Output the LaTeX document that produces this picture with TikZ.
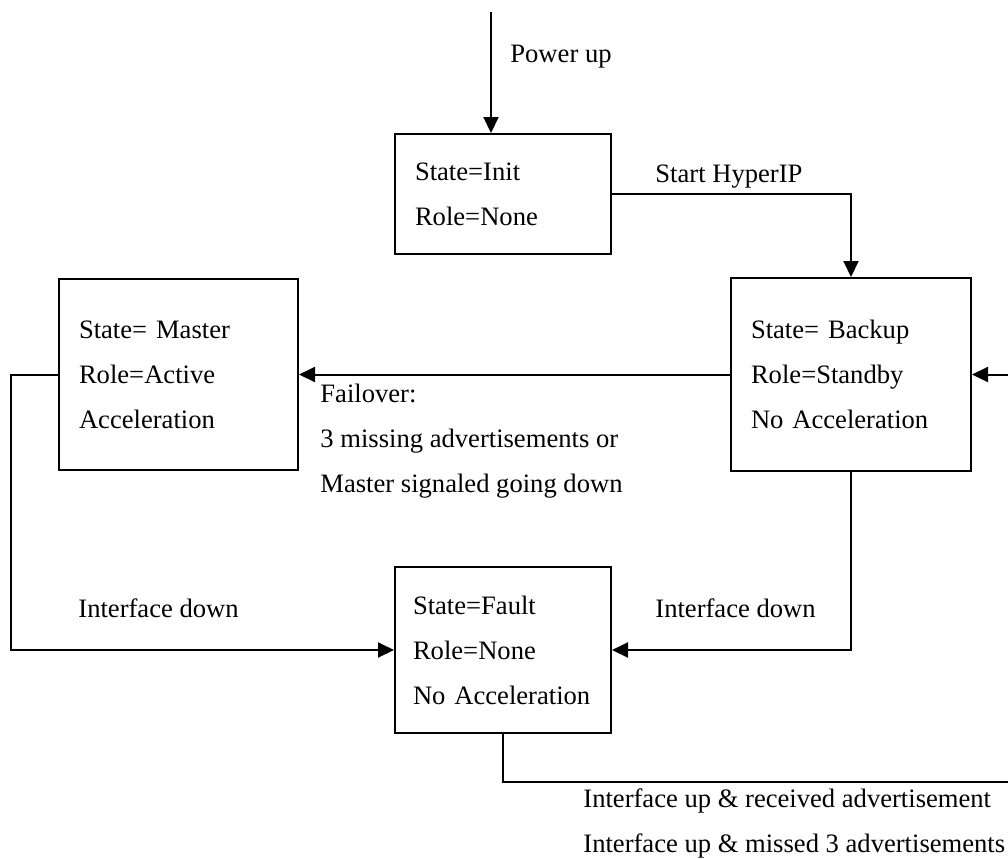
\documentclass[tikz,border=0pt]{standalone}
\usepackage{fontspec}
\setmainfont{Liberation Serif}
\usetikzlibrary{arrows.meta,positioning}

\begin{document}
\begin{tikzpicture}[
  x=0.5pt, y=-0.5pt,
  font=\fontsize{13.3}{22.5}\selectfont,
  st/.style={draw, line width=1pt, align=left, inner xsep=10pt, inner ysep=0pt},
  arr/.style={-{Triangle[length=8pt,width=7.5pt]}, line width=1pt},
  lbl/.style={anchor=west, align=left, inner sep=0pt},
]
\useasboundingbox (0,0) rectangle (1008,858);
\clip (0,0) rectangle (1008,858);

\node[st, text width=88pt, minimum height=60pt] (init) at (503,194) {State=Init\\Role=None};
\node[st, text width=100pt, minimum height=96.5pt] (backup) at (851,374.5) {State= Backup\\Role=Standby\\No Acceleration};
\node[st, text width=99.5pt, minimum height=95.5pt] (master) at (178.5,374.5) {State= Master\\Role=Active\\Acceleration};
\node[st, text width=90pt, inner xsep=9pt, minimum height=83pt] (fault) at (503,650) {State=Fault\\Role=None\\No Acceleration};

\coordinate (pwr) at (491,12);
\coordinate (loopR) at (1016,782);

\node[lbl] (lpwr) at (510,57) {Power up};
\node[lbl] (lstart) at (655,177) {Start HyperIP};
\node[lbl] (lfail) at (320,441) {Failover:\\3 missing advertisements or\\Master signaled going down};
\node[lbl] (ldownL) at (78,608) {Interface down};
\node[lbl] (ldownR) at (655,608) {Interface down};
\node[lbl] (lup) at (583,823) {Interface up \& received advertisement\\Interface up \& missed 3 advertisements};

\draw[arr] (pwr) -- (pwr |- init.north);
\draw[arr] (init.east) -| (backup.north);
\draw[arr] (backup.west) -- (master.east);
\draw[arr] (master.west) -- ++(-47,0) |- (fault.west);
\draw[arr] (backup.south) |- (fault.east);
\draw[arr] (fault.south) |- (loopR) |- (backup.east);
\end{tikzpicture}
\end{document}
